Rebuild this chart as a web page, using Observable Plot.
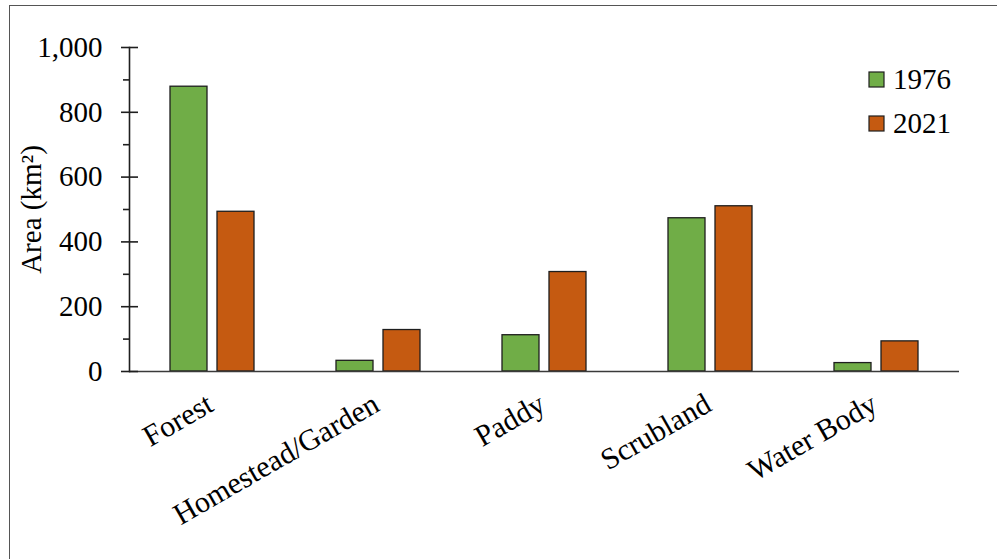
<!DOCTYPE html>
<html>
<head>
<meta charset="utf-8">
<script src="https://cdn.jsdelivr.net/npm/d3@7"></script>
<script src="https://cdn.jsdelivr.net/npm/@observablehq/plot@0.6"></script>
<style>
  html, body { margin: 0; padding: 0; background: #fff; }
  #wrap { position: relative; width: 997px; height: 559px; overflow: hidden; }
  #border { position: absolute; left: 9px; top: 5px; width: 1100px; height: 700px;
            border-left: 1.5px solid #555; border-top: 1.5px solid #555; }
  #chart { position: absolute; left: 0; top: 0; }
  #legend { position: absolute; left: 0; top: 0; }
</style>
</head>
<body>
<div id="wrap">
  <div id="border"></div>
  <div id="chart"></div>
  <svg id="legend" width="997" height="559"></svg>
</div>
<script>
// Land-cover area by class, 1976 vs 2021 (km²)
const categories = ["Forest", "Homestead/Garden", "Paddy", "Scrubland", "Water Body"];
const years = ["1976", "2021"];
const area1976 = [879, 33, 112, 473, 26];
const area2021 = [493, 128, 307, 510, 93];
const yTicks = [0, 200, 400, 600, 800, 1000];
const yMinorTicks = [100, 300, 500, 700, 900];
const yearColors = ["#70AD47", "#C55A11"];

const series = [area1976, area2021];
const data = categories.flatMap((category, i) =>
  years.map((year, j) => ({ category, year, area: series[j][i] }))
);

const font = "'Liberation Serif', 'Times New Roman', serif";
const axisInk = "#1e1e1e";

const chart = Plot.plot({
  width: 997,
  height: 559,
  marginLeft: 127,
  marginRight: 36,
  marginTop: 47,
  marginBottom: 188,
  style: { fontFamily: font, fontSize: "29px", color: "#000", background: "transparent", overflow: "visible" },
  fx: { domain: categories, padding: 0, label: null },
  x: { domain: years, paddingInner: 0.21, paddingOuter: 0.86, axis: null },
  y: { domain: [0, 1000] },
  color: { domain: years, range: yearColors },
  marks: [
    Plot.barY(data, { fx: "category", x: "year", y: "area", fill: "year", stroke: axisInk, strokeWidth: 1.3 }),
    Plot.ruleY([0], { stroke: "#3a3a3a", strokeWidth: 1.6 }),
    Plot.frame({ anchor: "left", facetAnchor: "left", stroke: axisInk, strokeWidth: 1.6 }),
    Plot.axisY({
      ticks: yTicks, tickSize: 8, tickPadding: 19, tickFormat: d3.format(","),
      fontSize: 29, stroke: axisInk, strokeWidth: 1.6,
      label: "Area (km²)", labelAnchor: "center", labelOffset: 109, labelArrow: "none"
    }),
    Plot.axisY({ ticks: yTicks, tickSize: -9, tickFormat: () => "", label: null, stroke: axisInk, strokeWidth: 1.6 }),
    Plot.axisY({ ticks: yMinorTicks, tickSize: 6, tickFormat: () => "", label: null, stroke: axisInk, strokeWidth: 1.6 }),
    Plot.axisFx({ anchor: "bottom", tickRotate: -30, tickSize: 0, tickPadding: 30, dx: -2, fontSize: 30, label: null })
  ]
});
document.getElementById("chart").appendChild(chart);

// Legend: colour swatch + year, stacked vertically at the upper right
const legend = d3.select("#legend");
const rows = legend.selectAll("g").data(years).join("g")
  .attr("transform", (d, i) => `translate(869, ${72 + i * 44})`);
rows.append("rect")
  .attr("width", 15).attr("height", 15)
  .attr("fill", (d, i) => yearColors[i])
  .attr("stroke", axisInk).attr("stroke-width", 1.2);
rows.append("text")
  .attr("x", 24).attr("y", 17)
  .attr("font-family", font).attr("font-size", 29)
  .text(d => d);
</script>
</body>
</html>
